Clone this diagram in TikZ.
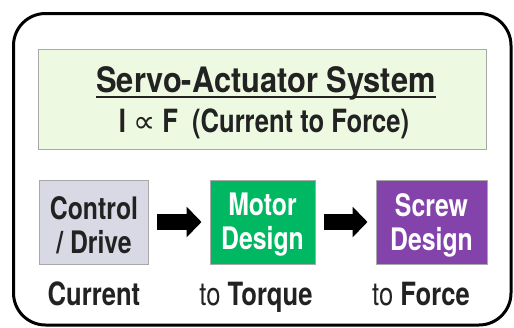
\documentclass[tikz,border=0pt]{standalone}
\usepackage{fontspec}
\setmainfont{TeX Gyre Heros}[FakeStretch=0.8]
\newfontfamily\titlefont{TeX Gyre Heros}[FakeStretch=0.88]
\newfontfamily\symfont{DejaVu Sans}
\usetikzlibrary{arrows.meta}
\definecolor{titlefill}{HTML}{EEF9E2}
\definecolor{boxborder}{HTML}{A8A8A8}
\definecolor{ctrlfill}{HTML}{D9D9E5}
\definecolor{motorfill}{HTML}{00B862}
\definecolor{screwfill}{HTML}{8343AB}
\definecolor{ink}{HTML}{222222}
\tikzset{
  x=1pt, y=-1pt,
  boxstyle/.style={draw=boxborder, line width=1pt, minimum width=109pt, minimum height=84pt, inner sep=0pt},
  boxtext/.style={inner sep=0pt, align=center, font=\fontsize{31}{34}\selectfont\bfseries},
  labelstyle/.style={anchor=base, inner sep=0pt, text=ink, font=\fontsize{32}{37}\selectfont},
  bigarrow/.style={line width=16pt, -{Triangle[length=15pt 0 0, width=30pt 0 0]}, shorten <=8pt, shorten >=8pt}
}
\begin{document}
\begin{tikzpicture}
\useasboundingbox (0,0) rectangle (514,327);
\draw[line width=3pt, rounded corners=32pt] (13.5,13.5) rectangle (511,325);
\node[draw=boxborder, fill=titlefill, line width=1pt, minimum width=448pt, minimum height=100pt, inner sep=0pt] (titlebox) at (262,99) {};
\node[anchor=base, inner sep=0pt, text=ink, font=\fontsize{35}{40}\titlefont\bfseries] (title) at (266,92) {Servo-Actuator System};
\draw[ink, line width=1.8pt] ([yshift=-5pt]title.base west) -- ([yshift=-5pt]title.base east);
\node[anchor=base, inner sep=0pt, text=ink, font=\fontsize{32}{36}\selectfont\bfseries] (sub) at (264,132) {I {\fontsize{31}{36}\symfont\mdseries ∝} F\ \ (Current to Force)};
\node[boxstyle, fill=ctrlfill] (ctrl) at (94,222) {};
\node[boxstyle, fill=motorfill, minimum width=105pt] (motor) at (262.5,222) {};
\node[boxstyle, fill=screwfill, minimum width=111pt] (screw) at (431.5,222) {};
\node[boxtext, text=ink] (ctrltext) at ([yshift=-3pt]ctrl.center) {Control\\/ Drive};
\node[boxtext, text=white] (motortext) at ([yshift=-3pt]motor.center) {Motor\\Design};
\node[boxtext, text=white] (screwtext) at ([yshift=-3pt]screw.center) {Screw\\Design};
\draw[bigarrow] (ctrl) -- (motor);
\draw[bigarrow] (motor) -- (screw);
\node[labelstyle] (l1) at (94,305) {\bfseries Current};
\node[labelstyle] (l2) at (256,305) {to \bfseries Torque};
\node[labelstyle] (l3) at (421,305) {to \bfseries Force};
\end{tikzpicture}
\end{document}
